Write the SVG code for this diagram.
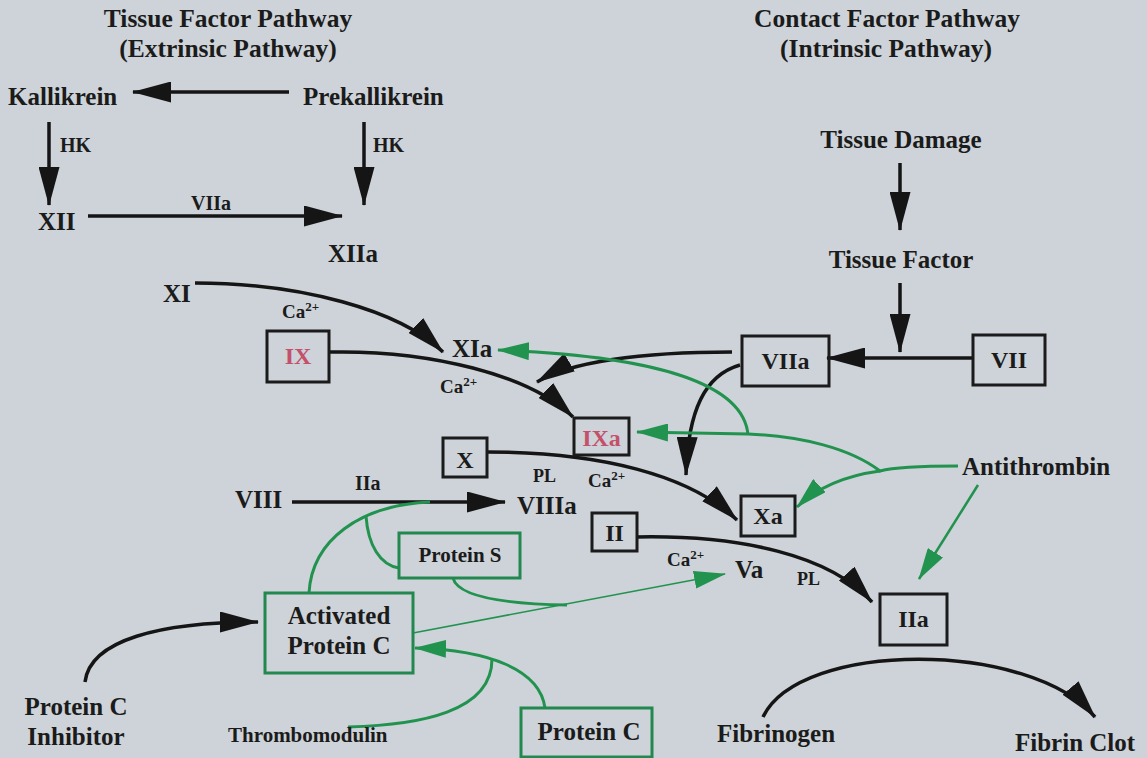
<svg xmlns="http://www.w3.org/2000/svg" width="1147" height="758" viewBox="0 0 1147 758">
<style>
.t{font-family:"Liberation Serif","Times New Roman",serif;font-weight:bold;fill:#1b1b1b;font-size:25px}
.ti{font-size:25.5px}
.bx{font-size:24px}
.sm{font-size:18px}
.hk{font-size:20px}
.ca{font-size:19px}
.md{font-size:20px}
.sup{font-size:13px}
.c{text-anchor:middle}
.red{fill:#c4506a}
.box{fill:none;stroke:#1b1b1b;stroke-width:3}
.gbox{fill:none;stroke:#23884f;stroke-width:3}
.k{fill:none;stroke:#151515;stroke-width:3.5}
.g{fill:none;stroke:#22924f;stroke-width:3}
.gt{fill:none;stroke:#22924f;stroke-width:1.6}
</style>
<defs>
<marker id="ak" markerUnits="userSpaceOnUse" markerWidth="39" markerHeight="21" refX="38" refY="10.5" orient="auto" viewBox="0 0 39 21">
<path d="M0,0 L39,10.5 L0,21 z" fill="#151515"/>
</marker>
<marker id="ag" markerUnits="userSpaceOnUse" markerWidth="32" markerHeight="18" refX="31" refY="9" orient="auto" viewBox="0 0 32 18">
<path d="M0,0 L32,9 L0,18 z" fill="#22924f"/>
</marker>
</defs>
<rect x="0" y="0" width="1147" height="758" fill="#cdd3d8"/>

<g id="titles">
<text class="t ti c" x="228" y="27">Tissue Factor Pathway</text>
<text class="t ti c" x="228" y="57">(Extrinsic Pathway)</text>
<text class="t ti c" x="887" y="27">Contact Factor Pathway</text>
<text class="t ti c" x="886" y="57">(Intrinsic Pathway)</text>
</g>

<g id="connectors">
<line class="k" x1="289" y1="92" x2="133" y2="92" marker-end="url(#ak)"/>
<line class="k" x1="49" y1="122" x2="49" y2="205" marker-end="url(#ak)"/>
<line class="k" x1="364" y1="122" x2="364" y2="205" marker-end="url(#ak)"/>
<line class="k" x1="88" y1="216" x2="342" y2="216" marker-end="url(#ak)"/>
<line class="k" x1="900" y1="163" x2="900" y2="230" marker-end="url(#ak)"/>
<line class="k" x1="900" y1="283" x2="900" y2="352" marker-end="url(#ak)"/>
<line class="k" x1="972" y1="358" x2="827" y2="358" marker-end="url(#ak)"/>
<path class="k" d="M195,283 C300,283 400,310 443,352" marker-end="url(#ak)"/>
<path class="k" d="M330,352 C430,350 530,375 573,417" marker-end="url(#ak)"/>
<path class="k" d="M732,352 C640,352 570,362 537,382" marker-end="url(#ak)"/>
<path class="k" d="M740,365 C705,375 688,410 686,475" marker-end="url(#ak)"/>
<path class="k" d="M487,452 C600,452 690,475 737,520" marker-end="url(#ak)"/>
<path class="k" d="M637,537 C740,535 830,555 872,602" marker-end="url(#ak)"/>
<line class="k" x1="292" y1="502" x2="505" y2="502" marker-end="url(#ak)"/>
<path class="k" d="M85,682 C90,640 160,622 258,622" marker-end="url(#ak)"/>
<path class="k" d="M763,717 C800,640 1030,640 1095,717" marker-end="url(#ak)"/>

<path class="g" d="M958,466 C925,466 895,467 880,471 C850,448 800,436 748,434 L637,432" marker-end="url(#ag)"/>
<path class="g" d="M880,471 C850,475 820,485 797,507" marker-end="url(#ag)"/>
<path class="g" d="M748,435 C744,385 660,356 498,350" marker-end="url(#ag)"/>
<line class="g" x1="978" y1="485" x2="919" y2="579" marker-end="url(#ag)" style="stroke-width:2.5"/>
<path class="g" d="M309,593 C312,540 360,505 430,502"/>
<path class="g" d="M366,516 C368,545 380,565 399,568"/>
<path class="g" d="M453,578 C458,598 510,604 567,605"/>
<line class="gt" x1="413" y1="633" x2="725" y2="574" marker-end="url(#ag)"/>
<path class="g" d="M545,708 C540,670 490,650 415,648" marker-end="url(#ag)"/>
<path class="g" d="M348,727 C420,725 492,712 492,659"/>
</g>

<g id="labels">
<text class="t hk" x="60" y="152">HK</text>
<text class="t hk" x="373" y="152">HK</text>
<text class="t md c" x="211" y="210">VIIa</text>
<text class="t ca" x="282" y="318">Ca<tspan class="sup" dy="-7">2+</tspan></text>
<text class="t ca" x="440" y="393">Ca<tspan class="sup" dy="-7">2+</tspan></text>
<text class="t sm" x="533" y="482">PL</text>
<text class="t ca" x="588" y="487">Ca<tspan class="sup" dy="-7">2+</tspan></text>
<text class="t md" x="355" y="490">IIa</text>
<text class="t ca" x="667" y="566">Ca<tspan class="sup" dy="-7">2+</tspan></text>
<text class="t sm" x="797" y="585">PL</text>
</g>

<g id="kallikrein"><text class="t" x="8" y="105">Kallikrein</text></g>
<g id="prekallikrein"><text class="t" x="303" y="105">Prekallikrein</text></g>
<g id="xii"><text class="t" x="38" y="230">XII</text></g>
<g id="xiia"><text class="t" x="328" y="262">XIIa</text></g>
<g id="tissue-damage"><text class="t c" x="901" y="148">Tissue Damage</text></g>
<g id="tissue-factor"><text class="t c" x="901" y="268">Tissue Factor</text></g>
<g id="xi"><text class="t" x="163" y="302">XI</text></g>
<g id="xia"><text class="t" x="452" y="357">XIa</text></g>
<g id="ix"><rect class="box" x="267" y="331" width="62" height="51"/><text class="t bx c red" x="298" y="364">IX</text></g>
<g id="ixa"><rect class="box" x="574" y="418" width="55" height="37"/><text class="t bx c red" x="601.5" y="446">IXa</text></g>
<g id="x"><rect class="box" x="443" y="438" width="44" height="39"/><text class="t bx c" x="465" y="468">X</text></g>
<g id="viia"><rect class="box" x="742" y="336" width="87" height="50"/><text class="t bx c" x="785.5" y="369">VIIa</text></g>
<g id="vii"><rect class="box" x="973" y="335" width="72" height="50"/><text class="t bx c" x="1009" y="368">VII</text></g>
<g id="antithrombin"><text class="t" x="962" y="475">Antithrombin</text></g>
<g id="viii"><text class="t" x="235" y="508">VIII</text></g>
<g id="viiia"><text class="t" x="517" y="514">VIIIa</text></g>
<g id="xa"><rect class="box" x="741" y="496" width="54" height="40"/><text class="t bx c" x="768" y="524">Xa</text></g>
<g id="ii"><rect class="box" x="592" y="513" width="45" height="38"/><text class="t bx c" x="614.5" y="541">II</text></g>
<g id="protein-s"><rect class="gbox" x="399" y="533" width="121" height="45"/><text class="t c" style="font-size:21px" x="460" y="562">Protein S</text></g>
<g id="va"><text class="t" x="735" y="578">Va</text></g>
<g id="iia"><rect class="box" x="880" y="594" width="67" height="51"/><text class="t bx c" x="913.5" y="627">IIa</text></g>
<g id="activated-protein-c"><rect class="gbox" x="265" y="593" width="148" height="80"/><text class="t c" x="339" y="624">Activated</text><text class="t c" x="339" y="654">Protein C</text></g>
<g id="protein-c-inhibitor"><text class="t c" x="76" y="715">Protein C</text><text class="t c" x="76" y="745">Inhibitor</text></g>
<g id="thrombomodulin"><text class="t" style="font-size:21px" x="228" y="742">Thrombomodulin</text></g>
<g id="protein-c"><rect class="gbox" x="521" y="708" width="131" height="49"/><text class="t c" x="589" y="740">Protein C</text></g>
<g id="fibrinogen"><text class="t" x="717" y="742">Fibrinogen</text></g>
<g id="fibrin-clot"><text class="t" x="1015" y="751">Fibrin Clot</text></g>
</svg>
